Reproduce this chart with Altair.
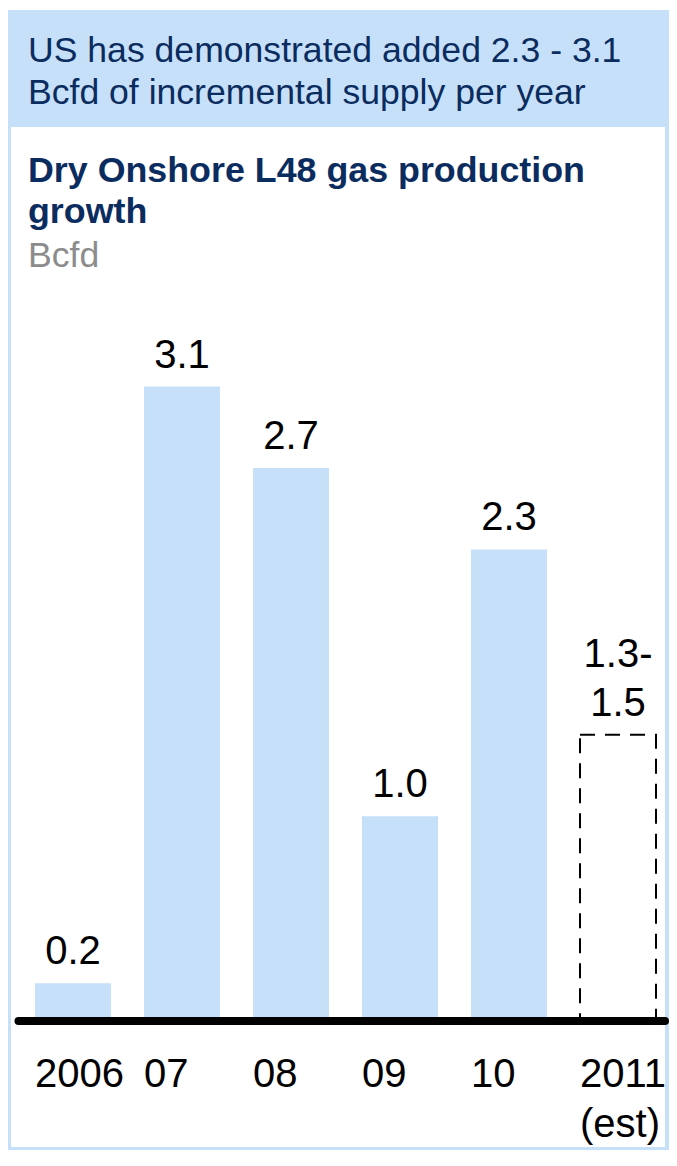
import altair as alt
import pandas as pd

# ---- data ----
years = ["2006", "07", "08", "09", "10", "2011"]
values = [0.17, 3.1, 2.7, 0.99, 2.3, 1.39]
value_labels = ["0.2", "3.1", "2.7", "1.0", "2.3", "1.5"]
value_labels_top = ["", "", "", "", "", "1.3-"]
tick_line2 = ["", "", "", "", "", "(est)"]
is_estimate = [False, False, False, False, False, True]

header_lines = ["US has demonstrated added 2.3 - 3.1",
                "Bcfd of incremental supply per year"]
title_lines = ["Dry Onshore L48 gas production", "growth"]
unit_label = "Bcfd"

BLUE = "#C7E0F9"
NAVY = "#0B2C5E"
FONT = "Liberation Sans"
W, H = 661, 1142

df = pd.DataFrame({
    "year": years,
    "value": values,
    "label": value_labels,
    "label_top": value_labels_top,
    "tick2": tick_line2,
    "est": is_estimate,
})

xs = alt.Scale(domain=years, range=[27, 648], paddingInner=0.3028, paddingOuter=0)
ys = alt.Scale(domain=[0, 4], range=[1010, 195.2], nice=False, zero=True)
X = alt.X("year:N", scale=xs, sort=years, axis=None)
Y = alt.Y("value:Q", scale=ys, axis=None)

one = pd.DataFrame({"k": [0]})


def rect(x, x2, y, y2, color):
    return alt.Chart(one).mark_rect(color=color).encode(
        x=alt.value(x), x2=alt.value(x2), y=alt.value(y), y2=alt.value(y2))


def line(text, x, y, size, color, weight="normal"):
    return alt.Chart(pd.DataFrame({"t": [text]})).mark_text(
        align="left", baseline="alphabetic", font=FONT, fontSize=size,
        color=color, fontWeight=weight
    ).encode(text="t:N", x=alt.value(x), y=alt.value(y))


frame = rect(0, W, 2, H, BLUE)
panel = rect(3, W - 4, 119, H - 3, "white")

texts = [
    line(header_lines[0], 20, 54, 35.6, NAVY),
    line(header_lines[1], 20, 96, 35.6, NAVY),
    line(title_lines[0], 20, 174, 35.8, NAVY, "bold"),
    line(title_lines[1], 20, 215, 35.8, NAVY, "bold"),
    line(unit_label, 20, 259, 35.6, "#8C8C8C"),
]

base = alt.Chart(df)

bars = base.transform_filter("!datum.est").mark_bar(color=BLUE).encode(x=X, y=Y)
est_bar = base.transform_filter("datum.est").mark_bar(
    fill="white", stroke="black", strokeWidth=2, strokeDash=[15, 10]
).encode(x=X, y=Y)

labels = base.mark_text(
    align="center", baseline="alphabetic", font=FONT, fontSize=40, color="black", dy=-19
).encode(x=X, y=Y, text="label:N")
labels_top = base.transform_filter("datum.label_top != ''").mark_text(
    align="center", baseline="alphabetic", font=FONT, fontSize=40, color="black", dy=-68
).encode(x=X, y=Y, text="label_top:N")

baseline_rule = alt.Chart(one).mark_rule(
    color="black", strokeWidth=8, strokeCap="round"
).encode(y=alt.datum(0, scale=ys), yOffset=alt.value(3),
         x=alt.value(10.5), x2=alt.value(W - 4))

ticks = base.mark_text(
    align="left", baseline="alphabetic", font=FONT, fontSize=40, color="black", dx=-38
).encode(x=X, y=alt.value(1079), text="year:N")
ticks2 = base.transform_filter("datum.tick2 != ''").mark_text(
    align="left", baseline="alphabetic", font=FONT, fontSize=40, color="black", dx=-38
).encode(x=X, y=alt.value(1129), text="tick2:N")

chart = alt.layer(
    frame, panel, *texts, bars, est_bar, labels, labels_top, baseline_rule, ticks, ticks2
).properties(
    width=W, height=H, padding=0, autosize=alt.AutoSizeParams(type="none")
).configure_view(stroke=None)

chart.save("out.html", embed_options={"renderer": "svg", "actions": False})
